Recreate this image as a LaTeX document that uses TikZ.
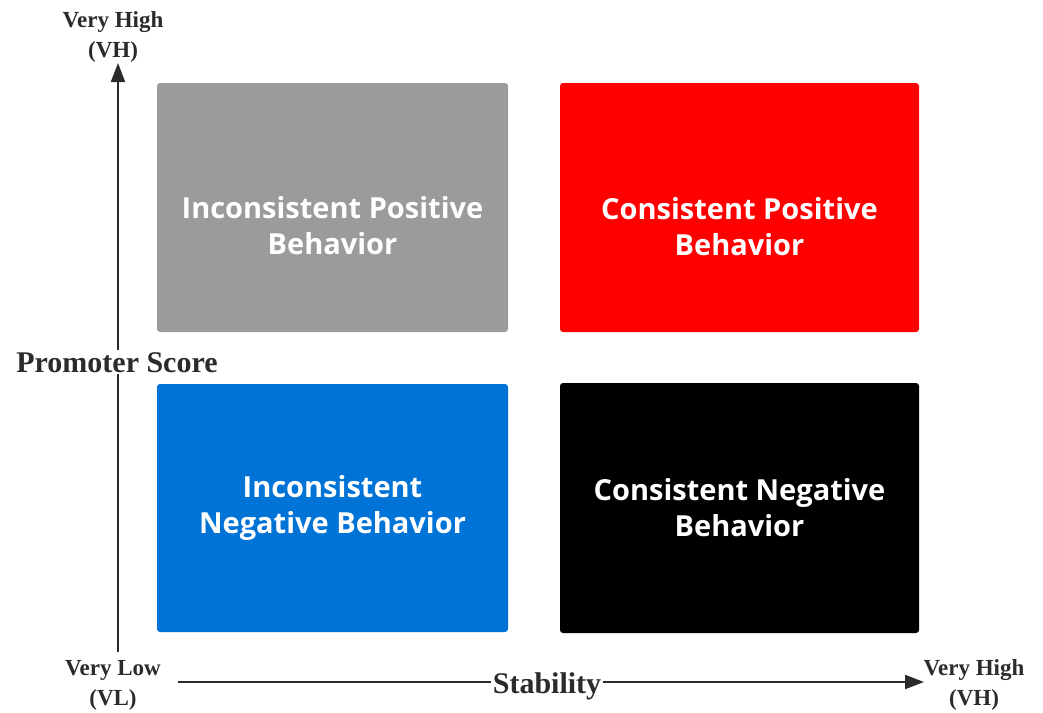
\documentclass[tikz,border=0pt]{standalone}
\usepackage{fontspec}
\setmainfont{Liberation Serif}
\newfontfamily\quadfont{Open Sans}
\usetikzlibrary{arrows.meta}
\definecolor{quadgray}{HTML}{9B9B9B}
\definecolor{quadred}{HTML}{FF0000}
\definecolor{quadblue}{HTML}{0073D7}
\definecolor{quadblack}{HTML}{000000}
\definecolor{axisink}{HTML}{2B2B2B}
\begin{document}
\begin{tikzpicture}[x=1pt,y=-1pt,
  quad/.style={draw=none,rounded corners=3pt,inner sep=0pt},
  quadtext/.style={text=white,align=center,inner sep=0pt,
    font=\quadfont\bfseries\fontsize{29}{36}\selectfont},
  axisline/.style={draw=axisink,line width=2pt},
  axisarrow/.style={axisline,-{Triangle[length=19pt,width=14pt]}},
  endlabel/.style={text=axisink,align=center,inner sep=0pt,anchor=base,
    font=\bfseries\fontsize{23}{30}\selectfont},
  axistitle/.style={text=axisink,fill=white,inner sep=2pt,anchor=base,
    font=\bfseries\fontsize{30}{36}\selectfont}]
\useasboundingbox (0,0) rectangle (1043,712);

% quadrants
\node[quad,fill=quadgray,minimum width=351pt,minimum height=249pt] (ip) at (332.5,207.5) {};
\node[quad,fill=quadred,minimum width=359pt,minimum height=249pt] (cp) at (739.5,207.5) {};
\node[quad,fill=quadblue,minimum width=351pt,minimum height=248pt] (in) at (332.5,508) {};
\node[quad,fill=quadblack,minimum width=359pt,minimum height=250pt] (cn) at (739.5,508) {};

\node[quadtext] (ipt) at ([yshift=-18pt]ip.center) {Inconsistent Positive\\Behavior};
\node[quadtext] (cpt) at ([yshift=-19pt]cp.center) {Consistent Positive\\Behavior};
\node[quadtext] (int) at (in.center) {Inconsistent\\Negative Behavior};
\node[quadtext] (cnt) at (cn.center) {Consistent Negative\\Behavior};

% axes
\coordinate (ybot) at (118,652);
\coordinate (ytop) at (118,63);
\coordinate (xleft) at (178,682);
\coordinate (xright) at (924,682);
\draw[axisarrow] (ybot) -- (ytop);
\draw[axisarrow] (xleft) -- (xright);

% axis titles (white backing breaks the axis lines)
\node[axistitle] (ytitle) at (117,372) {Promoter Score};
\node[axistitle] (xtitle) at (547,693) {Stability};

% axis end labels (base anchor sits on the last line)
\node[endlabel] (vhtop) at (113,57) {Very High\\(VH)};
\node[endlabel] (vl) at (113,705) {Very Low\\(VL)};
\node[endlabel] (vhright) at (974,705) {Very High\\(VH)};
\end{tikzpicture}
\end{document}
